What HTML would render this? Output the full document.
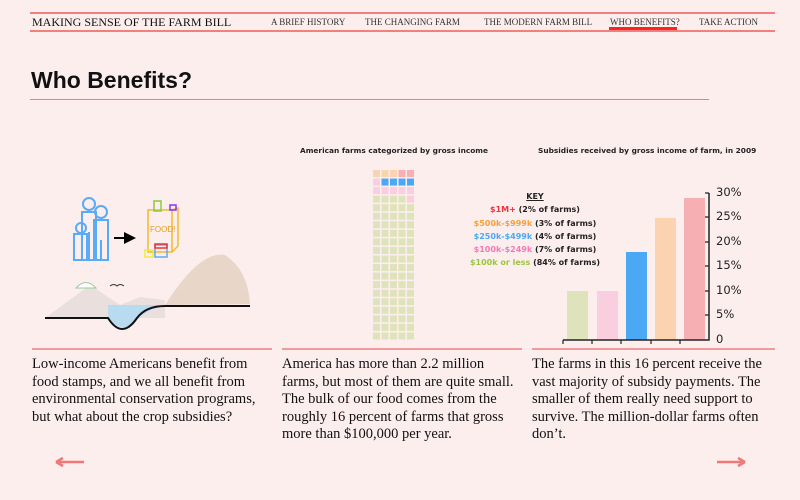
<!DOCTYPE html>
<html><head><meta charset="utf-8"><style>
body{margin:0;width:800px;height:500px;background:#fdeeee;position:relative;overflow:hidden;font-family:"Liberation Serif",serif;color:#111}
.a{position:absolute}
.nav{font-size:9px;top:17px;color:#333}
.p{font-size:14.5px;line-height:17.5px;top:356px;white-space:nowrap}
.hr{height:1.5px;background:#f19a9a}
.key{font-family:"DejaVu Sans",sans-serif;font-size:8px;font-weight:bold;line-height:13.3px;text-align:center;left:455px;top:190px;width:160px;color:#222}
.yl{font-family:"DejaVu Sans",sans-serif;font-size:11.5px;left:716px;color:#222}
.ct{font-family:"DejaVu Sans",sans-serif;font-size:7.4px;font-weight:bold;color:#222;top:146px}
</style></head><body>
<div class="a" style="left:30px;top:12px;width:745px;height:1.5px;background:#f47f7f"></div>
<div class="a" style="left:30px;top:30px;width:745px;height:1.5px;background:#f47f7f"></div>
<div class="a" style="left:32px;top:15px;font-size:12px">MAKING SENSE OF THE FARM BILL</div>
<div class="a nav" style="left:271px">A BRIEF HISTORY</div>
<div class="a nav" style="left:365px">THE CHANGING FARM</div>
<div class="a nav" style="left:484px">THE MODERN FARM BILL</div>
<div class="a nav" style="left:610px">WHO BENEFITS?</div>
<div class="a nav" style="left:699px">TAKE ACTION</div>
<div class="a" style="left:609px;top:27px;width:68px;height:3px;background:#f22"></div>
<div class="a" style="left:31px;top:67px;font-family:'Liberation Sans',sans-serif;font-weight:bold;font-size:23px">Who Benefits?</div>
<div class="a" style="left:30px;top:99px;width:679px;height:1px;background:#d88"></div>

<svg class="a" style="left:0;top:0" width="800" height="500">
<g fill="none" stroke="#5aaaf5" stroke-width="2">
<circle cx="89" cy="204" r="6"/><path d="M82 212h14v48h-14zM89 232v28"/>
<circle cx="101" cy="212" r="6"/><path d="M94 220h14v40h-14zM101 240v20"/>
<circle cx="81" cy="228" r="5"/><path d="M74 234h13v26h-13z"/>
</g>
<path d="M114 238h10" stroke="#000" stroke-width="2"/><path d="M124 232l12 6l-12 6z" fill="#000"/>
<g fill="none" stroke="#f0b930" stroke-width="1.5"><path d="M148 210h24v42h-24zM172 210l6-2v38l-6 6"/></g>
<text x="150" y="232" font-size="8" fill="#e0a020" font-family="Liberation Sans">FOOD!</text>
<rect x="154" y="201" width="7" height="10" fill="none" stroke="#8c4" stroke-width="1.5"/>
<rect x="170" y="205" width="6" height="5" fill="none" stroke="#83f" stroke-width="1.5"/>
<rect x="155" y="245" width="12" height="12" fill="none" stroke="#5aaaf5" stroke-width="1.5"/>
<rect x="155" y="244" width="12" height="4" fill="none" stroke="#e33" stroke-width="1.5"/>
<rect x="145" y="250" width="8" height="7" fill="none" stroke="#ee3" stroke-width="1.5"/>
<path d="M45 318L90 285L120 305L140 297L165 300L165 318z" fill="#e9dfdc"/>
<path d="M165 305Q200 250 225 255Q248 270 250 304z" fill="#e8d6c8"/>
<path d="M76 288Q86 277 96 288z" fill="#fff" stroke="#9c9" stroke-width="1"/>
<path d="M110 286q4-3 7 0q3-3 7 0" fill="none" stroke="#333" stroke-width="1"/>
<path d="M108 318Q122 335 135 322Q145 310 165 305H108z" fill="#b9dbf0"/>
<path d="M45 318H108Q122 340 137 318Q146 306 165 306H250" fill="none" stroke="#111" stroke-width="2"/>
<g id="w"></g>
<rect x="567" y="291" width="21" height="49" fill="#dfe3bb"/>
<rect x="597" y="291" width="21" height="49" fill="#f9cfe0"/>
<rect x="626" y="252" width="21" height="88" fill="#4aa8f5"/>
<rect x="655" y="218" width="21" height="122" fill="#fbd3b0"/>
<rect x="684" y="198" width="21" height="142" fill="#f6b0b3"/>
<path d="M563 340H709V193" fill="none" stroke="#222" stroke-width="1.5"/>
<path d="M563 340v4M592 340v4M621 340v4M651 340v4M680 340v4M709 193h-4M709 217h-4M709 242h-4M709 266h-4M709 291h-4M709 315h-4" stroke="#222" stroke-width="1.2"/>
<path d="M56 462H84M56 462l7-4M56 462l7 4" stroke="#f07878" stroke-width="2.5" fill="none"/>
<path d="M717 462H745M745 462l-7-4M745 462l-7 4" stroke="#f07878" stroke-width="2.5" fill="none"/>
</svg>
<script>
(function(){var g=document.getElementById('w'),c={o:'#fbd3b0',r:'#f6b0b3',p:'#f9cfe0',b:'#4aa8f5',g:'#dfe3bb'};
var rows=['ooorr','pbbbb','ppppp','ggggp'];for(var i=0;i<16;i++)rows.push('ggggg');
var s='';rows.forEach(function(r,y){for(var x=0;x<5;x++)s+='<rect x="'+(373+x*8.5)+'" y="'+(170+y*8.55)+'" width="7" height="7" fill="'+c[r[x]]+'"/>';});g.innerHTML=s;})();
</script>
<div class="a ct" style="left:300px">American farms categorized by gross income</div>
<div class="a ct" style="left:538px">Subsidies received by gross income of farm, in 2009</div>
<div class="a key"><u>KEY</u><br><span style="color:#f0303a">$1M+</span> (2% of farms)<br><span style="color:#f5a040">$500k-$999k</span> (3% of farms)<br><span style="color:#4aa8f5">$250k-$499k</span> (4% of farms)<br><span style="color:#f27bb5">$100k-$249k</span> (7% of farms)<br><span style="color:#9bc53d">$100k or less</span> (84% of farms)</div>
<div class="a yl" style="top:185px">30%</div><div class="a yl" style="top:209px">25%</div><div class="a yl" style="top:234px">20%</div><div class="a yl" style="top:258px">15%</div><div class="a yl" style="top:283px">10%</div><div class="a yl" style="top:307px">5%</div><div class="a yl" style="top:332px">0</div>
<div class="a hr" style="left:32px;top:348px;width:240px"></div>
<div class="a hr" style="left:282px;top:348px;width:240px"></div>
<div class="a hr" style="left:532px;top:348px;width:243px"></div>
<div class="a p" style="left:32px">Low-income Americans benefit from<br>food stamps, and we all benefit from<br>environmental conservation programs,<br>but what about the crop subsidies?</div>
<div class="a p" style="left:282px">America has more than 2.2 million<br>farms, but most of them are quite small.<br>The bulk of our food comes from the<br>roughly 16 percent of farms that gross<br>more than $100,000 per year.</div>
<div class="a p" style="left:532px">The farms in this 16 percent receive the<br>vast majority of subsidy payments. The<br>smaller of them really need support to<br>survive. The million-dollar farms often<br>don’t.</div>
</body></html>
